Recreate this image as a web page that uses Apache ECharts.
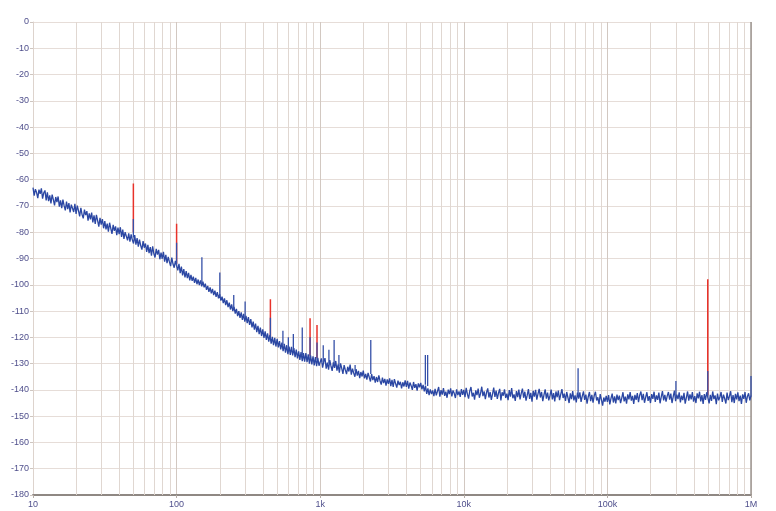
<!DOCTYPE html>
<html>
<head>
<meta charset="utf-8">
<script src="https://cdn.jsdelivr.net/npm/echarts@6/dist/echarts.min.js"></script>
<style>
html,body{margin:0;padding:0;background:#fff;}
#c{width:776px;height:511px;}
</style>
</head>
<body>
<div id="c"></div>
<script>
// x tick labels
var xTickLabels = {10:'10',100:'100',1000:'1k',10000:'10k',100000:'100k',1000000:'1M'};
var decadeStarts = [10, 100, 1000, 10000, 100000];
var minorMultipliers = [2,3,4,5,6,7,8,9];
var pointsPerDecade = 120;

// noise floor, read per decade (120 samples each, log-spaced)
var noiseDec1 = [
-63.0,-66.1,-63.6,-64.9,-67.0,-63.8,-65.4,-63.3,-67.2,-65.0,-64.1,-67.9,
-64.8,-68.2,-66.0,-69.0,-65.7,-67.6,-69.8,-66.6,-68.5,-66.4,-70.3,-67.9,
-70.8,-67.6,-69.9,-71.7,-68.3,-71.2,-68.9,-72.5,-69.5,-70.9,-72.3,-69.2,
-73.0,-69.9,-71.8,-74.0,-70.7,-73.3,-74.7,-71.4,-73.5,-72.0,-75.6,-72.8,
-75.1,-72.5,-76.3,-73.6,-76.8,-73.4,-75.6,-77.9,-74.5,-77.1,-75.0,-78.5,
-75.8,-78.9,-76.7,-79.8,-76.4,-78.5,-80.6,-77.2,-79.5,-77.8,-81.1,-78.2,
-80.7,-78.1,-81.8,-79.0,-82.5,-80.0,-79.3,-83.1,-80.4,-83.6,-80.8,-82.9,
-84.3,-81.1,-84.7,-82.2,-85.5,-82.8,-85.1,-86.6,-83.4,-85.9,-84.3,-87.5,
-84.8,-88.0,-85.7,-88.9,-85.4,-88.2,-89.6,-86.3,-88.5,-86.7,-90.3,-87.8,
-90.1,-87.5,-91.2,-88.6,-91.8,-89.4,-91.3,-92.9,-89.7,-92.1,-93.5,-90.9];
var noiseDec2 = [
-90.8,-94.5,-92.0,-95.6,-93.1,-96.4,-94.0,-97.2,-94.8,-97.5,-95.5,-98.3,
-96.2,-98.5,-96.9,-99.3,-97.4,-99.8,-98.0,-100.1,-98.3,-100.6,-98.8,-101.0,
-99.6,-101.9,-100.4,-102.7,-101.0,-103.3,-101.6,-103.9,-102.2,-104.6,-102.8,-105.2,
-103.6,-106.0,-104.5,-107.0,-105.2,-107.7,-105.9,-108.5,-106.8,-109.4,-107.5,-110.0,
-108.4,-111.0,-109.2,-111.9,-110.0,-112.6,-110.5,-113.4,-111.1,-114.0,-111.8,-114.6,
-112.3,-115.3,-113.1,-116.2,-114.0,-117.1,-114.8,-118.0,-115.6,-118.8,-116.3,-119.5,
-117.0,-120.2,-117.7,-121.0,-118.5,-121.6,-119.1,-122.4,-119.8,-123.0,-120.2,-123.5,
-120.6,-123.8,-121.4,-124.6,-122.0,-125.3,-122.5,-125.8,-123.0,-126.4,-123.5,-126.7,
-123.6,-126.9,-124.1,-127.5,-124.7,-128.0,-125.3,-128.6,-125.6,-129.1,-126.0,-129.3,
-126.0,-129.4,-126.5,-130.0,-126.9,-130.3,-127.2,-130.7,-127.5,-131.0,-127.8,-130.8];
var noiseDec3 = [
-130.8,-128.0,-131.5,-129.2,-127.9,-131.9,-129.6,-132.3,-128.7,-130.9,-132.8,-129.5,
-131.6,-129.0,-132.7,-130.3,-133.4,-129.9,-131.8,-133.9,-130.6,-132.4,-134.0,-131.2,
-133.0,-130.4,-134.2,-131.9,-133.6,-135.0,-132.1,-134.6,-132.8,-135.5,-133.2,-134.9,
-132.7,-135.6,-133.9,-136.1,-133.5,-135.2,-136.8,-134.0,-136.3,-134.8,-137.2,-135.1,
-137.0,-134.5,-136.6,-138.0,-135.3,-137.4,-135.8,-138.4,-136.0,-137.7,-135.6,-138.6,
-136.2,-138.9,-135.9,-137.6,-139.1,-136.5,-138.2,-136.9,-139.4,-137.1,-138.7,-136.4,
-138.9,-136.6,-139.5,-137.2,-138.4,-140.0,-137.0,-139.2,-137.8,-140.3,-137.5,-139.0,
-137.3,-139.8,-138.1,-140.6,-138.4,-141.5,-139.4,-142.0,-139.8,-141.6,-140.2,-142.4,
-139.6,-142.1,-140.5,-138.9,-142.6,-140.1,-141.8,-139.3,-142.3,-140.7,-143.0,-139.9,
-141.6,-139.4,-142.5,-140.2,-141.3,-143.1,-139.8,-142.0,-140.6,-142.7,-139.7,-141.9];
var noiseDec4 = [
-140.0,-142.8,-139.2,-141.6,-143.3,-140.4,-138.9,-142.5,-141.1,-143.7,-140.2,-142.0,
-139.5,-143.0,-141.3,-138.8,-142.4,-140.6,-143.5,-141.0,-139.4,-142.9,-140.8,-143.8,
-141.6,-139.1,-142.7,-140.3,-143.4,-141.2,-139.6,-144.0,-140.9,-142.2,-139.8,-143.1,
-141.4,-143.9,-140.1,-142.6,-139.3,-143.2,-141.7,-144.2,-140.5,-142.8,-139.9,-143.6,
-141.3,-139.5,-143.0,-140.7,-144.1,-142.0,-139.7,-143.4,-141.1,-144.5,-140.4,-142.6,
-140.0,-143.7,-141.5,-139.6,-142.9,-140.8,-144.3,-141.9,-139.8,-143.3,-141.0,-144.0,
-142.2,-139.9,-143.6,-141.2,-144.4,-140.6,-142.8,-140.3,-143.9,-141.7,-139.7,-143.1,
-141.4,-144.2,-140.8,-142.9,-145.0,-141.3,-143.5,-140.5,-144.0,-142.1,-144.8,-141.0,
-143.3,-140.9,-144.6,-142.4,-140.6,-143.8,-141.8,-145.2,-142.6,-140.8,-144.3,-141.9,
-144.9,-142.2,-140.7,-144.0,-142.8,-145.4,-141.6,-143.7,-146.0,-142.9,-144.5,-142.3];
var noiseDec5 = [
-144.6,-142.0,-145.5,-143.2,-141.4,-144.8,-142.5,-145.1,-141.8,-143.9,-142.2,-145.0,
-143.1,-140.9,-144.4,-142.6,-145.2,-141.7,-143.6,-140.8,-144.1,-142.3,-145.3,-141.9,
-143.8,-141.2,-144.7,-142.0,-140.6,-143.9,-141.5,-144.9,-142.8,-140.9,-144.2,-142.4,
-145.0,-141.6,-143.4,-140.7,-144.6,-142.1,-143.8,-141.0,-145.1,-142.7,-140.5,-144.0,
-141.9,-144.5,-142.3,-140.8,-143.7,-141.4,-145.0,-142.6,-140.3,-144.3,-141.8,-143.5,
-140.9,-144.8,-142.2,-143.9,-141.1,-145.2,-142.9,-140.6,-144.1,-141.7,-143.6,-140.8,
-144.5,-142.4,-145.0,-141.3,-143.2,-140.7,-144.4,-142.0,-145.3,-141.6,-143.8,-140.9,
-143.0,-145.1,-141.9,-144.2,-140.6,-143.5,-142.1,-145.4,-141.4,-144.0,-142.7,-140.8,
-144.6,-141.8,-143.3,-145.2,-141.0,-143.9,-142.4,-140.5,-144.7,-142.0,-145.0,-141.5,
-143.6,-140.9,-144.3,-142.2,-145.3,-141.7,-143.4,-140.8,-144.9,-142.5,-141.3,-144.0];
var noiseEnd = -142.2;

// spikes: frequency, peak dB, foot dB
var blueSpikeFreqs = [50, 100, 150, 200, 250, 300, 450, 550, 600, 650, 750, 850, 950, 1050, 1150, 1250, 1350, 1750, 2250, 5400, 5600, 62500, 300000, 500000, 1000000];
var blueSpikePeaks = [-75, -84, -89.5, -95.3, -103.9, -106.4, -112.5, -117.5, -120, -118.7, -116.3, -120, -122, -123, -124.7, -121, -126.7, -130.5, -121, -126.7, -126.7, -131.8, -136.6, -132.8, -134.7];
var blueSpikeFeet  = [-82, -93, -100, -104.5, -109.5, -112.5, -120.5, -123, -124.5, -125, -127, -128, -128.5, -129.5, -130, -130.5, -131, -133, -134, -138, -138.5, -142, -142.5, -142.5, -142.5];
var redSpikeFreqs = [50, 100, 450, 850, 950, 500000];
var redSpikePeaks = [-61.5, -76.8, -105.5, -112.7, -115.3, -97.9];
var redSpikeFeet  = [-80, -92, -120, -127, -128, -142];

var noiseDecades = [noiseDec1, noiseDec2, noiseDec3, noiseDec4, noiseDec5];
var noiseData = [];
noiseDecades.forEach(function(arr, d){
  arr.forEach(function(v, i){
    noiseData.push([decadeStarts[d] * Math.pow(10, i / pointsPerDecade), v]);
  });
});
noiseData.push([1000000, noiseEnd]);

function spikeData(fs, peaks, feet){
  var out = [];
  fs.forEach(function(f, i){
    out.push([f, feet[i]]);
    out.push([f, peaks[i]]);
    out.push([f, '-']);
  });
  return out;
}

var minorLines = [];
decadeStarts.forEach(function(d){
  minorMultipliers.forEach(function(m){ minorLines.push({xAxis: d * m}); });
});

var chart = echarts.init(document.getElementById('c'), null, {renderer:'canvas'});
var labelColor = '#4f4f8c';
chart.setOption({
  animation: false,
  backgroundColor: '#ffffff',
  grid: {left: 33, right: 25, top: 22, bottom: 16, containLabel: false},
  xAxis: {
    type: 'log', logBase: 10, min: 10, max: 1000000,
    axisLine: {show: true, onZero: false, lineStyle: {color: '#8f8883', width: 2}},
    axisTick: {show: true, length: 3, lineStyle: {color: '#b5aca6'}},
    axisLabel: {color: labelColor, fontSize: 9, fontFamily: 'Liberation Sans, Arial, sans-serif', margin: 5,
      formatter: function(v){ return xTickLabels[Math.round(v)] || ''; }},
    splitLine: {show: true, lineStyle: {color: '#d2c8c1', width: 1}},
    minorTick: {show: false}
  },
  yAxis: {
    type: 'value', min: -180, max: 0, interval: 10,
    axisLine: {show: true, onZero: false, lineStyle: {color: '#ddd3cd', width: 1}},
    axisTick: {show: true, length: 3, lineStyle: {color: '#cfc6c0'}},
    axisLabel: {color: labelColor, fontSize: 9, fontFamily: 'Liberation Sans, Arial, sans-serif', margin: 4},
    splitLine: {show: true, lineStyle: {color: '#e6ddd8', width: 1}}
  },
  series: [
    {
      name: 'grid', type: 'line', data: [], silent: true, z: 1,
      markLine: {
        silent: true, symbol: ['none','none'], animation: false, z: 1,
        label: {show: false},
        lineStyle: {color: '#e0d7d1', width: 1, type: 'solid'},
        data: minorLines.concat([{xAxis: 1000000, lineStyle: {color: '#9e9792', width: 1.5}}])
      }
    },
    {
      name: 'red', type: 'line', data: spikeData(redSpikeFreqs, redSpikePeaks, redSpikeFeet),
      showSymbol: false, connectNulls: false, z: 3,
      lineStyle: {color: '#e8322a', width: 1.5}
    },
    {
      name: 'noise', type: 'line', data: noiseData, showSymbol: false, z: 4,
      lineStyle: {color: '#2b47a3', width: 1.3}
    },
    {
      name: 'blueSpikes', type: 'line', data: spikeData(blueSpikeFreqs, blueSpikePeaks, blueSpikeFeet),
      showSymbol: false, connectNulls: false, z: 4,
      lineStyle: {color: '#3550a8', width: 1.3}
    }
  ]
});
</script>
</body>
</html>
